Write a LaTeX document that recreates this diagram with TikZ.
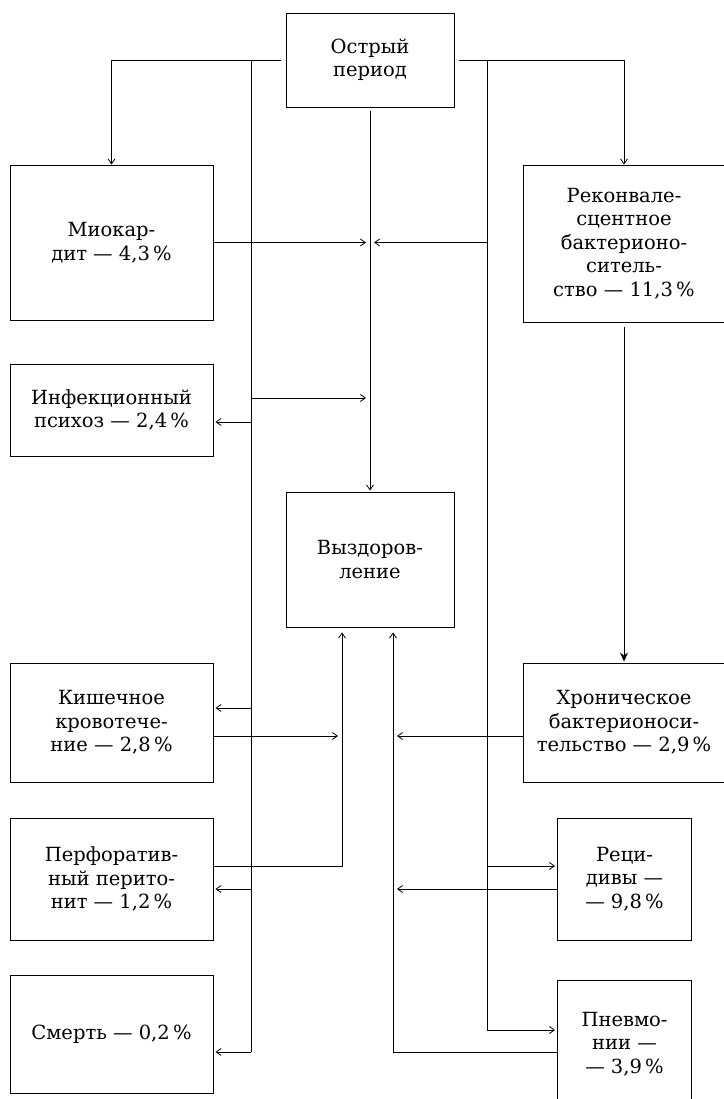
\documentclass[tikz,border=0pt]{standalone}
\usepackage{fontspec}
\setmainfont{DejaVu Serif}
\usetikzlibrary{arrows.meta}
\begin{document}
\begin{tikzpicture}[x=1pt,y=-1pt,
  box/.style={draw,line width=0.9pt,align=center,inner sep=0pt,font=\fontsize{19.5}{23.5}\selectfont},
  arr/.style={line width=0.8pt,-{Straight Barb[length=5pt,width=7pt]}},
  ln/.style={line width=0.8pt},
  barr/.style={line width=0.9pt,-{Stealth[length=9pt,width=8pt]}}]
\useasboundingbox (0,0) rectangle (723,1099);
% boxes
\node[box,minimum width=168,minimum height=94] (acute) at (370,60) {Острый\\период};
\node[box,minimum width=203,minimum height=155] (myo) at (111.5,242.5) {Миокар-\\дит — 4,3\,\%};
\node[box,minimum width=202,minimum height=157] (conv) at (624,243.5) {Реконвале-\\сцентное\\бактерионо-\\ситель-\\ство — 11,3\,\%};
\node[box,minimum width=203,minimum height=92] (psych) at (111.5,410) {Инфекционный\\психоз — 2,4\,\%};
\node[box,minimum width=168,minimum height=135] (recov) at (370,559.5) {Выздоров-\\ление};
\node[box,minimum width=203,minimum height=119] (bleed) at (111.5,722.5) {Кишечное\\кровотече-\\ние — 2,8\,\%};
\node[box,minimum width=202,minimum height=119] (chron) at (624,722.5) {Хроническое\\бактерионоси-\\тельство — 2,9\,\%};
\node[box,minimum width=203,minimum height=122] (perf) at (111.5,879) {Перфоратив-\\ный перито-\\нит — 1,2\,\%};
\node[box,minimum width=134,minimum height=122] (relapse) at (624.5,879) {Реци-\\дивы —\\— 9,8\,\%};
\node[box,minimum width=203,minimum height=118] (death) at (111.5,1034) {Смерть — 0,2\,\%};
\node[box,minimum width=134,minimum height=128] (pneum) at (624.5,1044) {Пневмо-\\нии —\\— 3,9\,\%};
% coordinates
\coordinate (LT) at (251,60);
\coordinate (LB) at (251,1052);
\coordinate (RT) at (487,60);
\coordinate (RB) at (487,1030);
\coordinate (LU) at (342,866);
\coordinate (RU) at (393,1052);
\coordinate (aPsyC) at (251,398);
\coordinate (aPsy) at (251,422);
\coordinate (aBleed) at (251,708);
\coordinate (oBleed) at (213,736);
\coordinate (aPerf) at (251,889);
\coordinate (oChron) at (523,736);
\coordinate (aRel) at (487,866);
\coordinate (oRel) at (557,889);
% connectors
\draw[arr,shorten <=5pt] (acute.west) -| (myo.north);
\draw[arr,shorten <=5pt] (acute.east) -| (conv.north);
\draw[ln] (LT) -- (LB);
\draw[arr,shorten >=2pt] (LB) -- (death.east |- LB);
\draw[ln] (RT) -- (RB);
\draw[arr,shorten >=2pt] (RB) -- (pneum.west |- RB);
\draw[arr,shorten <=4pt,shorten >=1pt] (acute.south) -- (recov.north);
\draw[arr,shorten >=4pt] (myo.east) -- (myo.east -| recov.north);
\draw[arr,shorten >=4pt] (RT |- myo.east) -- (myo.east -| recov.north);
\draw[arr,shorten >=4pt] (aPsyC) -- (aPsyC -| recov.north);
\draw[arr,shorten >=2pt] (aPsy) -- (aPsy -| psych.east);
\draw[arr,shorten >=2pt] (aBleed) -- (aBleed -| bleed.east);
\draw[arr,shorten >=4pt] (oBleed) -- (oBleed -| LU);
\draw[arr,shorten >=5pt] (perf.east |- LU) -- (LU) -- (LU |- recov.south);
\draw[arr,shorten >=2pt] (aPerf) -- (aPerf -| perf.east);
\draw[arr,shorten >=5pt] (pneum.west |- RU) -- (RU) -- (RU |- recov.south);
\draw[arr,shorten >=4pt] (oChron) -- (oChron -| RU);
\draw[arr,shorten >=2pt] (aRel) -- (aRel -| relapse.west);
\draw[arr,shorten >=4pt] (oRel) -- (oRel -| RU);
\draw[barr,shorten <=5pt,shorten >=1pt] (conv.south) -- (chron.north);
\end{tikzpicture}
\end{document}
